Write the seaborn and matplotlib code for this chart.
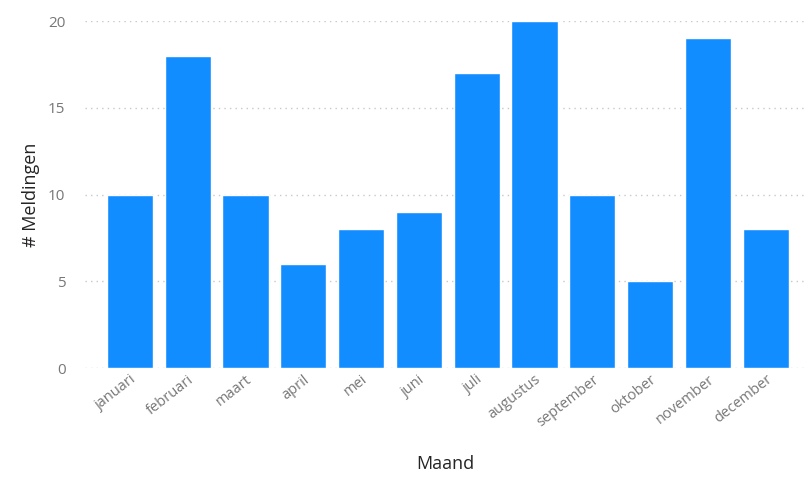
import matplotlib
matplotlib.use("Agg")
import matplotlib.pyplot as plt
import seaborn as sns
import pandas as pd

maanden = ["januari", "februari", "maart", "april", "mei", "juni",
           "juli", "augustus", "september", "oktober", "november", "december"]
meldingen = [10, 18, 10, 6, 8, 9, 17, 20, 10, 5, 19, 8]
y_ticks = [0, 5, 10, 15, 20]

sns.set_style("white")
plt.rcParams["font.family"] = ["Open Sans", "DejaVu Sans"]

df = pd.DataFrame({"Maand": maanden, "Meldingen": meldingen})

fig = plt.figure(figsize=(8.09, 4.8), dpi=100)
ax = fig.add_axes([0.105, 0.2333, 0.89, 0.7229])

sns.barplot(data=df, x="Maand", y="Meldingen", color="#118DFF",
            saturation=1, width=0.8, ax=ax, zorder=3)

ax.set_ylim(0, 20)
ax.set_xlim(-0.78, 11.68)
ax.set_yticks(y_ticks)
ax.yaxis.grid(True, linestyle=(0, (1, 3)), color="#c8c8c8", linewidth=1)
ax.xaxis.grid(False)
for s in ax.spines.values():
    s.set_visible(False)

ax.tick_params(axis="y", length=0, pad=14, labelsize=11, labelcolor="#777777")
ax.tick_params(axis="x", length=0, pad=3, labelsize=10.5, labelcolor="#777777")
for lbl in ax.get_xticklabels():
    lbl.set_rotation(38)
    lbl.set_ha("right")
    lbl.set_rotation_mode("anchor")

ax.set_xlabel("Maand", fontsize=13, color="#252423", labelpad=18)
ax.set_ylabel("# Meldingen", fontsize=13, color="#252423", labelpad=6)

fig.savefig("out.png", dpi=100)
